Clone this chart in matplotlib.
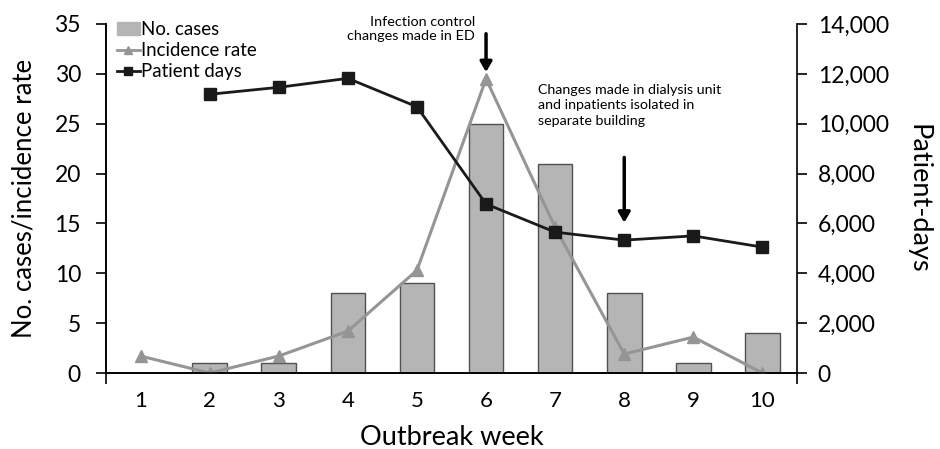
import matplotlib
matplotlib.use('Agg')
import matplotlib.pyplot as plt
from matplotlib.lines import Line2D
from matplotlib.patches import Patch

plt.rcParams['font.family'] = ['Lato', 'DejaVu Sans']

# 데이터
weeks = [1, 2, 3, 4, 5, 6, 7, 8, 9, 10]
cases = [0, 1, 1, 8, 9, 25, 21, 8, 1, 4]
incidence = [1.7, 0.0, 1.7, 4.2, 10.3, 29.5, 14.6, 1.9, 3.6, 0.0]
pd_weeks = [2, 3, 4, 5, 6, 7, 8, 9, 10]
patient_days = [11180, 11460, 11820, 10680, 6780, 5650, 5330, 5500, 5050]

fig = plt.figure(figsize=(9.4, 4.49), dpi=100)
ax = fig.add_axes([106 / 940, 1 - 373 / 449, 691 / 940, 349 / 449])
ax2 = ax.twinx()

ax.bar(weeks, cases, width=0.5, color='#b5b5b5', edgecolor='#505050', linewidth=1.0, zorder=2)
ax.plot(weeks, incidence, color='#959595', linewidth=2.2, marker='^', markersize=8, zorder=3)
ax2.plot(pd_weeks, patient_days, color='#1a1a1a', linewidth=2.0, marker='s', markersize=8, zorder=4)

ax.set_xlim(0.5, 10.5)
ax.set_ylim(0, 35)
ax2.set_ylim(0, 14000)
ax.set_yticks(range(0, 36, 5))
ax2.set_yticks(range(0, 14001, 2000))
ax2.set_yticklabels([f'{v:,}' for v in range(0, 14001, 2000)])
ax.set_xticks(weeks)
ax.set_xticks([0.5, 10.5], minor=True)

ax.tick_params(axis='x', which='major', length=0, labelsize=16, pad=13)
ax.tick_params(axis='x', which='minor', length=8, width=1.2, direction='out')
ax.tick_params(axis='y', length=7, width=1.2, labelsize=16.5, pad=11)
ax2.tick_params(axis='y', length=7, width=1.2, labelsize=16.5, pad=8)

for a in (ax, ax2):
    a.spines['top'].set_visible(False)
    for s in ('left', 'right', 'bottom'):
        a.spines[s].set_linewidth(1.2)
ax.spines['right'].set_visible(False)

ax.set_xlabel('Outbreak week', fontsize=19.5, labelpad=10)
ax.set_ylabel('No. cases/incidence rate', fontsize=18.5, labelpad=13)
ax2.set_ylabel('Patient-days', fontsize=19.5, rotation=270, labelpad=30)

# 주석 화살표
ax.annotate('', xy=(6, 29.9), xytext=(6, 34.3),
            arrowprops=dict(arrowstyle='-|>,head_width=0.35,head_length=0.6',
                            color='black', lw=2.5), zorder=5)
ax.annotate('', xy=(8, 14.8), xytext=(8, 21.9),
            arrowprops=dict(arrowstyle='-|>,head_width=0.35,head_length=0.6',
                            color='black', lw=2.5), zorder=5)
ax.text(5.84, 34.5, 'Infection control\nchanges made in ED', ha='right', va='center',
        fontsize=10.4, linespacing=1.25)
ax.text(6.75, 29.0, 'Changes made in dialysis unit\nand inpatients isolated in\nseparate building',
        ha='left', va='top', fontsize=10.3, linespacing=1.35)

handles = [Patch(facecolor='#b5b5b5', edgecolor='#b5b5b5'),
           Line2D([], [], color='#959595', lw=2, marker='^', markersize=6),
           Line2D([], [], color='#1a1a1a', lw=2, marker='s', markersize=6)]
ax2.legend(handles, ['No. cases', 'Incidence rate', 'Patient days'], loc='upper left',
           bbox_to_anchor=(0.0, 1.04), frameon=False, fontsize=13.4, handlelength=1.2,
           handletextpad=0.1, labelspacing=0.22, borderaxespad=0.2)

fig.savefig('out.png', dpi=100)
